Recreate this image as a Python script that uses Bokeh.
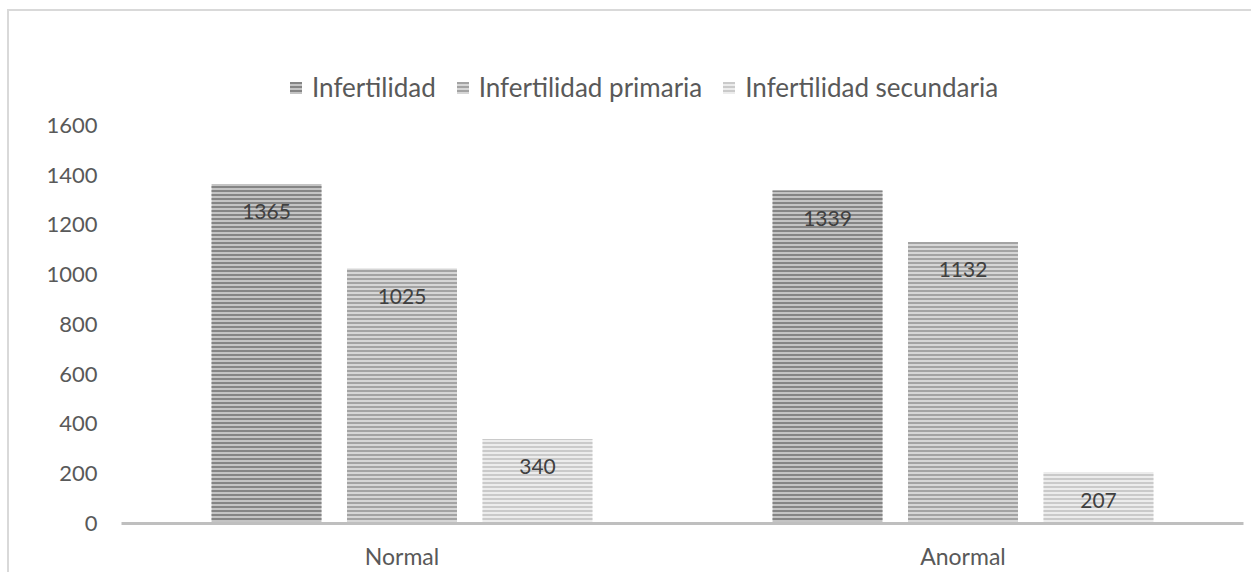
from bokeh.plotting import figure
from bokeh.models import ColumnDataSource, FactorRange, Range1d, FixedTicker, Legend, LegendItem
from bokeh.transform import dodge
from bokeh.core.properties import value
from bokeh.embed import file_html
from bokeh.resources import INLINE

categories = ["Normal", "Anormal"]
series = ["Infertilidad", "Infertilidad primaria", "Infertilidad secundaria"]
infertilidad = [1365, 1339]
primaria = [1025, 1132]
secundaria = [340, 207]
y_ticks = [0, 200, 400, 600, 800, 1000, 1200, 1400, 1600]

FONT = "Lato"
values_by_series = [infertilidad, primaria, secundaria]
fills = ["#c4c4c4", "#d6d6d6", "#ececec"]
hatches = ["#858585", "#a3a3a3", "#cacaca"]
offsets = [-0.2415, 0.0, 0.2415]

p = figure(x_range=FactorRange(*categories), y_range=Range1d(0, 2062.3),
           width=1251, height=572, output_backend="svg", toolbar_location=None,
           min_border_left=121, min_border_right=8, min_border_top=10, min_border_bottom=49)
p.outline_line_color = None
p.xgrid.grid_line_color = None
p.ygrid.grid_line_color = None
p.border_fill_alpha = 0
p.background_fill_alpha = 0
p.styles = {
    "background-color": "#ffffff",
    "background-image": "linear-gradient(#d9d9d9, #d9d9d9), linear-gradient(#d9d9d9, #d9d9d9)",
    "background-size": "100% 2px, 2px 100%",
    "background-position": "7px 9px, 7px 9px",
    "background-repeat": "no-repeat",
}

items = []
for name, vals, fc, hc, off in zip(series, values_by_series, fills, hatches, offsets):
    src = ColumnDataSource(dict(cat=categories, val=vals, lbl=[str(v) for v in vals]))
    r = p.vbar(x=dodge("cat", off, range=p.x_range), top="val", width=0.196, source=src,
               fill_color=fc, line_color=None,
               hatch_pattern="horizontal_line", hatch_color=hc, hatch_scale=4, hatch_weight=2)
    p.text(x=dodge("cat", off, range=p.x_range), y="val", text="lbl", source=src,
           text_align="center", text_baseline="middle", y_offset=28,
           text_font=value(FONT), text_font_size="21px", text_color="#404040")
    items.append(LegendItem(label=name, renderers=[r]))

legend = Legend(items=items, orientation="horizontal", location=(167, 420),
                glyph_width=15, glyph_height=15, label_standoff=9, spacing=19,
                padding=0, margin=0, border_line_color=None, background_fill_alpha=0,
                label_text_font=FONT, label_text_font_size="26px", label_text_color="#595959")
p.add_layout(legend)

p.yaxis.ticker = FixedTicker(ticks=y_ticks)
p.yaxis.axis_line_color = None
p.yaxis.major_tick_line_color = None
p.yaxis.minor_tick_line_color = None
p.yaxis.major_tick_out = 0
p.yaxis.major_tick_in = 0
p.yaxis.minor_tick_out = 0
p.yaxis.minor_tick_in = 0
p.yaxis.major_label_standoff = 24
p.yaxis.major_label_text_font = FONT
p.yaxis.major_label_text_font_size = "22px"
p.yaxis.major_label_text_color = "#595959"

p.xaxis.axis_line_color = "#bfbfbf"
p.xaxis.axis_line_width = 3
p.xaxis.major_tick_line_color = None
p.xaxis.minor_tick_line_color = None
p.xaxis.major_tick_out = 0
p.xaxis.major_tick_in = 0
p.xaxis.minor_tick_out = 0
p.xaxis.minor_tick_in = 0
p.xaxis.major_label_standoff = 18
p.xaxis.major_label_text_font = FONT
p.xaxis.major_label_text_font_size = "23px"
p.xaxis.major_label_text_color = "#595959"

open("out.html", "w").write(file_html(p, INLINE))
